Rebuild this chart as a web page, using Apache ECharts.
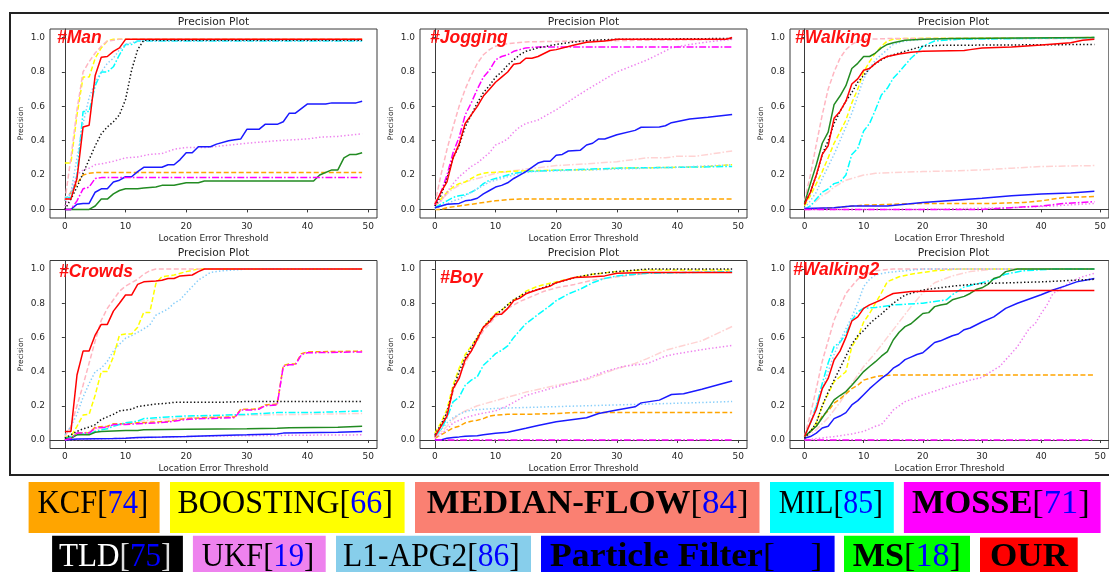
<!DOCTYPE html>
<html><head><meta charset="utf-8">
<script src="https://cdn.jsdelivr.net/npm/echarts@6/dist/echarts.min.js"></script>
<style>html,body{margin:0;padding:0;background:#fff}#c{width:1109px;height:572px}</style>
</head><body><div id="c"></div>
<script>
// ---------- tick labels ----------
const X_TICKS = [0, 10, 20, 30, 40, 50];
const Y_TICKS = [0, 0.2, 0.4, 0.6, 0.8, 1.0];
const PANEL_TITLES = ['#Man', '#Jogging', '#Walking', '#Crowds', '#Boy', '#Walking2'];

// ---------- #Man ----------
const man_our = [[0,.06],[1,.06],[2,.18],[3,.48],[4,.49],[5,.78],[6,.885],[7,.89],[8,.92],[9,.94],[10,.99],[49,.99]];
const man_boost = [[0,.27],[1,.27],[2,.55],[3,.77],[4,.77],[5,.88],[6,.94],[7,.98],[8,.99],[49,.99]];
const man_median = [[0,.05],[1,.3],[2,.58],[3,.8],[4,.86],[5,.91],[6,.95],[7,.98],[9,.99],[49,.99]];
const man_mil = [[0,.07],[1,.07],[2,.2],[3,.57],[4,.57],[5,.72],[6,.8],[7,.8],[8,.83],[9,.9],[10,.96],[11,.96],[12,.98],[49,.98]];
const man_l1 = [[0,.05],[1,.1],[2,.3],[3,.5],[4,.65],[5,.74],[6,.8],[7,.85],[8,.88],[9,.93],[10,.96],[12,.98],[49,.98]];
const man_tld = [[0,0],[1,.06],[2,.13],[3,.21],[4,.29],[5,.37],[6,.44],[7,.48],[8,.51],[9,.55],[10,.64],[11,.81],[12,.93],[13,.985],[49,.985]];
const man_ukf = [[0,.02],[1,.1],[2,.2],[3,.23],[4,.24],[5,.26],[6,.265],[8,.28],[10,.3],[12,.305],[14,.32],[16,.325],[18,.35],[20,.36],[23,.36],[26,.37],[30,.385],[35,.4],[40,.41],[42,.42],[45,.425],[49,.44]];
const man_kcf = [[0,.05],[1,.1],[2,.15],[3,.2],[4,.21],[5,.215],[49,.215]];
const man_mosse = [[0,0],[1,0],[2,.05],[3,.12],[4,.13],[5,.18],[6,.185],[49,.185]];
const man_pf = [[0,0],[1,0],[2,.03],[3,.035],[4,.035],[5,.1],[6,.12],[7,.12],[8,.16],[9,.17],[10,.19],[11,.19],[12,.22],[13,.245],[16,.245],[17,.26],[18,.26],[19,.29],[20,.33],[21,.33],[22,.365],[24,.365],[25,.38],[27,.4],[28,.405],[29,.41],[30,.466],[32,.466],[33,.495],[35,.495],[36,.51],[37,.56],[38,.56],[40,.614],[43,.614],[44,.62],[48,.62],[49,.63]];
const man_ms = [[0,0],[4,0],[5,.02],[6,.06],[7,.06],[8,.09],[9,.11],[10,.12],[12,.12],[13,.125],[15,.13],[16,.14],[18,.14],[20,.155],[22,.155],[23,.165],[41,.165],[42,.2],[44,.23],[45,.23],[46,.3],[47,.32],[48,.32],[49,.33]];
const man_other = [];

// ---------- #Jogging ----------
const jog_our = [[0,.03],[1,.1],[2,.16],[3,.3],[4,.38],[5,.5],[6,.55],[7,.6],[8,.66],[9,.7],[10,.74],[11,.77],[12,.8],[13,.845],[14,.85],[15,.88],[16,.88],[17,.89],[19,.925],[20,.93],[23,.957],[25,.973],[28,.98],[30,.99],[48,.99],[49,1.0]];
const jog_tld = [[0,.02],[1,.08],[2,.18],[3,.3],[4,.37],[5,.48],[6,.55],[7,.62],[8,.68],[9,.72],[10,.77],[11,.8],[12,.84],[13,.87],[14,.9],[15,.92],[17,.94],[20,.96],[23,.975],[26,.985],[30,.99],[49,.995]];
const jog_mosse = [[0,.02],[1,.1],[2,.2],[3,.33],[4,.42],[5,.55],[6,.62],[7,.7],[8,.77],[9,.81],[10,.87],[11,.89],[12,.9],[13,.92],[14,.93],[15,.94],[17,.945],[49,.945]];
const jog_median = [[0,.03],[1,.2],[2,.35],[3,.48],[4,.6],[5,.7],[6,.78],[7,.85],[8,.9],[9,.93],[10,.95],[12,.965],[15,.975],[25,.98],[35,.985],[49,.99]];
const jog_ukf = [[0,.02],[1,.05],[2,.1],[3,.15],[4,.19],[5,.22],[6,.25],[7,.27],[8,.3],[9,.33],[10,.375],[11,.39],[12,.41],[13,.45],[14,.48],[15,.5],[17,.52],[20,.58],[23,.65],[25,.695],[30,.8],[35,.87],[39,.94],[42,.96],[45,.975],[49,.99]];
const jog_pf = [[0,.01],[1,.02],[2,.03],[4,.035],[5,.05],[6,.055],[7,.065],[8,.09],[9,.11],[10,.13],[11,.14],[12,.155],[13,.18],[14,.2],[15,.22],[17,.27],[18,.28],[19,.28],[20,.315],[21,.32],[22,.34],[24,.345],[25,.375],[26,.385],[27,.41],[28,.41],[30,.435],[33,.46],[34,.478],[37,.48],[38,.487],[39,.505],[42,.526],[45,.536],[49,.553]];
const jog_other = [[0,.02],[1,.05],[2,.09],[3,.12],[4,.14],[5,.16],[6,.17],[7,.18],[8,.19],[10,.21],[15,.235],[20,.255],[25,.265],[30,.278],[35,.3],[38,.3],[40,.31],[43,.31],[46,.325],[49,.34]];
const jog_boost = [[0,.02],[1,.06],[2,.1],[3,.13],[4,.15],[5,.16],[6,.18],[7,.2],[8,.21],[9,.215],[12,.22],[15,.225],[20,.228],[26,.232],[30,.24],[40,.245],[45,.25],[49,.26]];
const jog_mil = [[0,.01],[1,.03],[2,.05],[3,.07],[4,.08],[5,.085],[6,.1],[7,.12],[8,.15],[9,.17],[10,.18],[11,.19],[12,.2],[13,.21],[15,.22],[20,.228],[26,.235],[30,.24],[40,.245],[49,.25]];
const jog_l1 = [[0,0],[1,.02],[2,.03],[3,.05],[4,.06],[5,.08],[6,.1],[7,.12],[8,.14],[9,.16],[10,.17],[12,.19],[14,.21],[16,.22],[20,.225],[26,.23],[30,.235],[40,.245],[49,.26]];
const jog_kcf = [[0,0],[1,0],[2,.01],[4,.02],[6,.03],[8,.04],[10,.05],[12,.057],[14,.06],[49,.06]];
const jog_ms = [];

// ---------- #Walking ----------
const walk_median = [[0,.05],[1,.2],[2,.38],[3,.55],[4,.7],[5,.8],[6,.88],[7,.93],[8,.96],[9,.98],[10,.99],[15,.995],[49,.995]];
const walk_ms = [[0,.035],[1,.15],[2,.26],[3,.385],[4,.45],[5,.61],[6,.66],[7,.72],[8,.82],[9,.85],[10,.89],[11,.89],[12,.91],[13,.94],[14,.96],[15,.97],[17,.985],[20,.99],[25,.995],[49,1.0]];
const walk_our = [[0,.03],[1,.1],[2,.2],[3,.32],[4,.37],[5,.53],[6,.57],[7,.63],[8,.73],[9,.76],[10,.81],[11,.82],[12,.85],[13,.875],[14,.89],[16,.905],[18,.915],[20,.92],[27,.925],[28,.93],[30,.94],[35,.945],[40,.957],[45,.97],[47,.985],[49,.99]];
const walk_tld = [[0,.03],[1,.1],[2,.2],[3,.32],[4,.4],[5,.5],[6,.57],[7,.63],[8,.68],[9,.74],[10,.78],[11,.82],[12,.85],[13,.87],[14,.89],[15,.9],[17,.92],[20,.95],[23,.955],[49,.96]];
const walk_boost = [[0,.02],[1,.08],[2,.15],[3,.22],[4,.3],[5,.385],[6,.45],[7,.52],[8,.62],[9,.7],[10,.8],[11,.86],[12,.91],[13,.95],[14,.98],[15,.99],[17,.995],[49,1.0]];
const walk_l1 = [[0,.01],[1,.05],[2,.1],[3,.18],[4,.25],[5,.32],[6,.4],[7,.48],[8,.56],[9,.66],[10,.76],[11,.82],[12,.87],[13,.9],[14,.93],[15,.96],[17,.98],[20,.99],[49,1.0]];
const walk_mil = [[0,0],[1,.02],[2,.06],[3,.1],[4,.12],[5,.15],[6,.16],[7,.2],[8,.32],[9,.355],[10,.456],[11,.5],[12,.58],[13,.666],[14,.705],[15,.763],[16,.8],[17,.84],[18,.88],[19,.91],[20,.95],[22,.98],[26,.99],[49,1.0]];
const walk_other = [[0,0],[1,.02],[2,.05],[3,.08],[4,.1],[5,.13],[6,.15],[7,.17],[8,.18],[9,.19],[10,.2],[12,.21],[15,.215],[20,.22],[26,.225],[30,.23],[35,.24],[40,.25],[49,.255]];
const walk_pf = [[0,.005],[5,.01],[8,.02],[14,.02],[20,.04],[26,.055],[30,.065],[35,.08],[40,.09],[45,.095],[49,.105]];
const walk_kcf = [[0,0],[5,.01],[10,.025],[15,.03],[20,.035],[32,.035],[37,.04],[40,.05],[44,.07],[49,.075]];
const walk_mosse = [[0,0],[30,0],[35,.01],[40,.02],[44,.035],[49,.045]];
const walk_ukf = [[0,0],[20,0],[35,.01],[42,.02],[49,.035]];

// ---------- #Crowds ----------
const crowd_our = [[0,.05],[1,.05],[2,.38],[3,.52],[4,.52],[5,.614],[6,.676],[7,.676],[8,.754],[9,.8],[10,.848],[11,.848],[12,.91],[13,.925],[15,.93],[16,.935],[17,.945],[18,.945],[19,.96],[21,.965],[22,.985],[23,1.0],[49,1.0]];
const crowd_median = [[0,.02],[1,.08],[2,.2],[3,.32],[4,.45],[5,.58],[6,.7],[7,.77],[8,.82],[9,.87],[10,.9],[11,.92],[12,.94],[13,.97],[14,.99],[15,1.0],[49,1.0]];
const crowd_boost = [[0,.02],[1,.02],[2,.08],[3,.146],[4,.15],[5,.263],[6,.4],[7,.4],[8,.487],[9,.614],[10,.62],[11,.62],[12,.66],[13,.746],[14,.746],[15,.916],[16,.955],[18,.965],[20,.985],[22,1.0],[49,1.0]];
const crowd_l1 = [[0,.03],[1,.08],[2,.15],[3,.25],[4,.33],[5,.4],[6,.42],[7,.46],[8,.52],[9,.56],[10,.595],[11,.61],[12,.63],[13,.65],[14,.673],[15,.73],[17,.766],[18,.8],[19,.82],[20,.86],[22,.935],[24,.98],[26,.99],[30,1.0],[49,1.0]];
const crowd_mosse = [[0,0],[1,.01],[2,.04],[4,.04],[5,.07],[7,.075],[8,.09],[10,.09],[12,.095],[15,.1],[17,.105],[20,.12],[23,.125],[28,.13],[29,.175],[31,.175],[32,.18],[33,.2],[35,.205],[36,.43],[37,.44],[38,.44],[39,.5],[40,.51],[49,.515]];
const crowd_kcf = [[0,0],[1,.01],[2,.04],[4,.04],[5,.075],[7,.08],[8,.095],[10,.095],[12,.1],[15,.105],[17,.11],[20,.125],[23,.13],[28,.135],[29,.18],[31,.18],[32,.185],[33,.205],[35,.21],[36,.435],[37,.445],[38,.445],[39,.505],[40,.515],[49,.52]];
const crowd_tld = [[0,.01],[1,.03],[2,.05],[3,.065],[4,.075],[5,.09],[6,.12],[7,.135],[8,.15],[9,.17],[10,.175],[11,.18],[12,.195],[13,.2],[14,.205],[15,.21],[17,.215],[18,.22],[25,.22],[30,.225],[49,.225]];
const crowd_mil = [[0,.01],[1,.02],[2,.03],[3,.035],[4,.035],[5,.05],[6,.06],[7,.065],[8,.08],[9,.09],[10,.1],[12,.11],[13,.125],[15,.13],[17,.135],[20,.14],[26,.145],[30,.15],[35,.16],[40,.16],[45,.165],[49,.17]];
const crowd_other = [[0,0],[2,.03],[5,.06],[10,.1],[15,.12],[20,.13],[30,.145],[40,.15],[49,.155]];
const crowd_ms = [[0,.01],[1,.01],[2,.03],[3,.03],[4,.03],[5,.045],[6,.05],[10,.055],[12,.055],[13,.06],[20,.062],[30,.065],[35,.068],[37,.072],[45,.075],[49,.08]];
const crowd_pf = [[0,0],[2,.005],[8,.008],[10,.01],[12,.015],[16,.017],[20,.02],[24,.025],[30,.03],[35,.035],[36,.04],[45,.045],[49,.05]];
const crowd_ukf = [[0,0],[5,.005],[10,.01],[20,.02],[30,.025],[40,.028],[49,.03]];

// ---------- #Boy ----------
const boy_boost = [[0,.04],[1,.1],[2,.18],[3,.32],[4,.42],[5,.5],[6,.55],[7,.6],[8,.66],[9,.7],[10,.74],[11,.76],[12,.79],[13,.82],[14,.84],[15,.87],[17,.9],[20,.925],[23,.95],[26,.97],[30,.985],[35,.995],[49,.995]];
const boy_tld = [[0,.03],[1,.09],[2,.16],[3,.3],[4,.4],[5,.48],[6,.54],[7,.6],[8,.66],[9,.7],[10,.73],[11,.76],[12,.79],[13,.82],[14,.84],[15,.86],[17,.88],[20,.92],[23,.95],[26,.97],[30,.985],[35,1.0],[49,1.0]];
const boy_our = [[0,.02],[1,.08],[2,.14],[3,.3],[4,.36],[5,.47],[6,.52],[7,.59],[8,.66],[9,.69],[10,.735],[11,.735],[12,.77],[13,.815],[14,.83],[15,.855],[17,.88],[19,.9],[20,.92],[22,.94],[23,.95],[26,.955],[28,.96],[30,.975],[35,.98],[49,.98]];
const boy_median = [[0,.02],[1,.08],[2,.16],[3,.28],[4,.38],[5,.45],[6,.52],[7,.58],[8,.64],[9,.68],[10,.72],[12,.77],[14,.81],[16,.84],[18,.87],[20,.89],[23,.91],[26,.935],[30,.955],[35,.975],[40,.98],[49,.985]];
const boy_mil = [[0,.02],[1,.06],[2,.13],[3,.223],[4,.25],[5,.32],[6,.35],[7,.37],[8,.437],[9,.47],[10,.505],[11,.524],[12,.55],[13,.6],[14,.64],[15,.68],[17,.734],[19,.786],[20,.815],[22,.854],[24,.883],[26,.92],[28,.945],[30,.96],[35,.975],[49,.985]];
const boy_other = [[0,.01],[2,.08],[3,.12],[4,.15],[5,.17],[7,.2],[10,.23],[15,.28],[20,.32],[25,.353],[30,.417],[33,.447],[35,.476],[38,.524],[40,.544],[44,.58],[49,.664]];
const boy_ukf = [[0,.01],[2,.06],[3,.1],[5,.13],[7,.15],[10,.17],[11,.185],[12,.2],[15,.26],[18,.29],[20,.31],[25,.36],[28,.4],[31,.43],[35,.447],[38,.49],[40,.505],[45,.534],[49,.553]];
const boy_pf = [[0,0],[1,0],[2,.01],[3,.015],[4,.018],[5,.022],[7,.025],[8,.03],[10,.039],[12,.045],[15,.068],[17,.085],[20,.107],[25,.13],[27,.155],[30,.175],[33,.194],[34,.217],[37,.233],[39,.266],[41,.27],[44,.297],[47,.326],[49,.345]];
const boy_l1 = [[0,.02],[1,.06],[2,.1],[3,.13],[4,.15],[5,.165],[6,.175],[8,.18],[10,.185],[15,.19],[20,.195],[25,.2],[30,.205],[40,.215],[45,.22],[49,.225]];
const boy_kcf = [[0,.01],[1,.03],[2,.05],[3,.07],[4,.08],[5,.1],[6,.11],[7,.115],[8,.125],[9,.14],[10,.145],[12,.15],[15,.15],[20,.155],[23,.16],[49,.16]];
const boy_mosse = [[0,0],[49,0]];
const boy_ms = [];

// ---------- #Walking2 ----------
const w2_median = [[0,.02],[1,.15],[2,.3],[3,.46],[4,.58],[5,.7],[6,.78],[7,.857],[8,.9],[9,.94],[10,.965],[12,.99],[15,1.0],[49,1.0]];
const w2_l1 = [[0,.02],[1,.1],[2,.2],[3,.3],[4,.4],[5,.5],[6,.58],[7,.65],[8,.72],[9,.8],[10,.897],[11,.94],[12,.965],[14,.98],[17,.99],[20,1.0],[49,1.0]];
const w2_mil = [[0,.02],[1,.1],[2,.2],[3,.33],[4,.45],[5,.546],[6,.571],[7,.62],[8,.7],[9,.75],[10,.77],[12,.775],[15,.79],[20,.8],[23,.815],[24,.82],[25,.85],[27,.895],[30,.92],[32,.94],[34,.97],[37,.99],[42,1.0],[49,1.0]];
const w2_our = [[0,.02],[1,.1],[2,.18],[3,.3],[4,.36],[5,.468],[6,.52],[7,.6],[8,.696],[9,.72],[10,.77],[11,.79],[12,.805],[13,.82],[14,.84],[15,.857],[18,.868],[30,.874],[49,.874]];
const w2_boost = [[0,.02],[1,.05],[2,.1],[3,.2],[4,.27],[5,.34],[6,.37],[7,.4],[8,.546],[9,.6],[10,.69],[11,.74],[12,.8],[13,.86],[14,.926],[16,.955],[18,.97],[22,.99],[26,1.0],[49,1.0]];
const w2_tld = [[0,.01],[1,.05],[2,.1],[3,.2],[4,.28],[5,.35],[6,.42],[7,.49],[8,.56],[9,.61],[10,.64],[11,.68],[12,.71],[13,.737],[15,.8],[17,.848],[20,.877],[25,.9],[30,.915],[40,.925],[49,.94]];
const w2_other = [[0,.01],[2,.06],[4,.13],[6,.22],[8,.33],[10,.43],[12,.51],[14,.6],[16,.69],[18,.78],[20,.86],[22,.92],[25,.96],[28,.985],[32,1.0],[49,1.0]];
const w2_ms = [[0,.02],[1,.05],[2,.08],[3,.13],[4,.18],[5,.234],[6,.26],[7,.283],[8,.32],[9,.36],[10,.4],[11,.43],[12,.458],[13,.49],[14,.517],[15,.585],[16,.63],[17,.663],[18,.68],[19,.71],[20,.74],[21,.745],[22,.78],[23,.79],[24,.795],[25,.82],[27,.84],[28,.857],[29,.88],[30,.89],[31,.91],[32,.945],[33,.955],[34,.985],[36,1.0],[49,1.0]];
const w2_kcf = [[0,.02],[1,.05],[2,.08],[3,.14],[4,.17],[5,.215],[6,.24],[7,.27],[8,.3],[9,.32],[10,.35],[11,.36],[12,.37],[13,.375],[15,.38],[49,.38]];
const w2_pf = [[0,.01],[1,.02],[2,.04],[3,.07],[4,.08],[5,.125],[6,.14],[7,.16],[8,.205],[9,.23],[10,.265],[11,.3],[12,.33],[13,.36],[14,.385],[15,.42],[16,.44],[17,.47],[18,.485],[19,.5],[20,.51],[21,.54],[22,.57],[23,.58],[24,.595],[25,.61],[26,.62],[27,.645],[28,.655],[30,.69],[32,.72],[34,.77],[36,.8],[38,.825],[40,.85],[42,.877],[44,.9],[46,.925],[49,.945]];
const w2_ukf = [[0,0],[5,.02],[8,.035],[10,.05],[12,.08],[13,.09],[14,.13],[15,.175],[17,.224],[20,.263],[25,.32],[28,.35],[30,.366],[32,.41],[33,.43],[35,.507],[36,.546],[38,.653],[39,.68],[40,.74],[41,.79],[42,.857],[43,.877],[45,.926],[47,.955],[49,.975]];
const w2_mosse = [[0,0],[49,0]];

// ---------- legend text ----------
const LEG_NAMES = ['KCF','BOOSTING','MEDIAN-FLOW','MIL','MOSSE','TLD','UKF','L1-APG2','Particle Filter','MS','OUR'];
const LEG_REFS = ['74','66','84','85','71','75','19','86','\u2002\u2002','18',null];
const LEG_BG = ['#FFA500','#FFFF00','#FA8072','#00FFFF','#FF00FF','#000000','#EE82EE','#87CEEB','#0000FF','#00FF00','#FF0000'];
const LEG_BOLD = [false,false,true,false,true,false,false,false,true,true,true];

// ---------- assemble ----------
const PANELS = [
  {kcf:man_kcf, boost:man_boost, median:man_median, mil:man_mil, mosse:man_mosse, tld:man_tld, ukf:man_ukf, l1:man_l1, other:man_other, pf:man_pf, ms:man_ms, our:man_our},
  {kcf:jog_kcf, boost:jog_boost, median:jog_median, mil:jog_mil, mosse:jog_mosse, tld:jog_tld, ukf:jog_ukf, l1:jog_l1, other:jog_other, pf:jog_pf, ms:jog_ms, our:jog_our},
  {kcf:walk_kcf, boost:walk_boost, median:walk_median, mil:walk_mil, mosse:walk_mosse, tld:walk_tld, ukf:walk_ukf, l1:walk_l1, other:walk_other, pf:walk_pf, ms:walk_ms, our:walk_our},
  {kcf:crowd_kcf, boost:crowd_boost, median:crowd_median, mil:crowd_mil, mosse:crowd_mosse, tld:crowd_tld, ukf:crowd_ukf, l1:crowd_l1, other:crowd_other, pf:crowd_pf, ms:crowd_ms, our:crowd_our},
  {kcf:boy_kcf, boost:boy_boost, median:boy_median, mil:boy_mil, mosse:boy_mosse, tld:boy_tld, ukf:boy_ukf, l1:boy_l1, other:boy_other, pf:boy_pf, ms:boy_ms, our:boy_our},
  {kcf:w2_kcf, boost:w2_boost, median:w2_median, mil:w2_mil, mosse:w2_mosse, tld:w2_tld, ukf:w2_ukf, l1:w2_l1, other:w2_other, pf:w2_pf, ms:w2_ms, our:w2_our}
];

const DASH = [5, 2.5], DASHDOT = [7, 2, 1.6, 2], DOT = [1.4, 2.2];
const STYLE = {
  other:{color:'#FFD3D3', type:DASHDOT},
  kcf:{color:'#FFA500', type:DASH},
  boost:{color:'#FFFF00', type:DASH},
  median:{color:'#FFB6C1', type:DASH},
  mil:{color:'#00FFFF', type:DASHDOT},
  ukf:{color:'#EE82EE', type:DOT},
  l1:{color:'#87CEFA', type:DOT},
  pf:{color:'#1A1AFF', type:'solid'},
  ms:{color:'#228B22', type:'solid'},
  mosse:{color:'#FF00FF', type:DASHDOT},
  tld:{color:'#111111', type:DOT},
  our:{color:'#FF0000', type:'solid'}
};
const ORDER = ['other','kcf','boost','median','mil','ukf','l1','pf','ms','mosse','tld','our'];

const GL = [50, 420, 790], GT = [29, 260.5], GW = 327, GH = [189, 188];
const FRAME = '#3a3a3a', TXT = '#262626';

const grids = [], xAxes = [], yAxes = [], series = [], graphics = [];
for (let i = 0; i < 6; i++) {
  const c = i % 3, r = Math.floor(i / 3);
  grids.push({left: GL[c], top: GT[r], width: GW, height: GH[r], show: true, borderColor: FRAME, borderWidth: 1, containLabel: false});
  xAxes.push({
    gridIndex: i, type: 'value', min: -2.45, max: 51.45,
    axisLine: {show: true, lineStyle: {color: FRAME, width: 1}},
    axisTick: {show: true, customValues: X_TICKS, length: 3, lineStyle: {color: FRAME}},
    axisLabel: {customValues: X_TICKS, fontSize: 9, fontFamily: 'DejaVu Sans', color: TXT, margin: 4},
    splitLine: {show: false},
    name: 'Location Error Threshold', nameLocation: 'middle', nameGap: 16,
    nameTextStyle: {fontSize: 9, fontFamily: 'DejaVu Sans', color: TXT}
  });
  yAxes.push({
    gridIndex: i, type: 'value', min: -0.05, max: 1.05,
    axisLine: {show: true, lineStyle: {color: FRAME, width: 1}},
    axisTick: {show: true, customValues: Y_TICKS, length: 3, lineStyle: {color: FRAME}},
    axisLabel: {customValues: Y_TICKS, fontSize: 9, fontFamily: 'DejaVu Sans', color: TXT, margin: 5, formatter: v => Number(v).toFixed(1)},
    splitLine: {show: false},
    name: 'Precision', nameLocation: 'middle', nameGap: 25, nameRotate: 90,
    nameTextStyle: {fontSize: 7.5, fontFamily: 'DejaVu Sans', color: TXT}
  });
  ORDER.forEach(k => {
    const d = PANELS[i][k];
    if (!d || !d.length) return;
    series.push({
      type: 'line', xAxisIndex: i, yAxisIndex: i, data: d, symbol: 'none', silent: true,
      lineStyle: {color: STYLE[k].color, width: 1.5, type: STYLE[k].type}
    });
  });
  // panel title
  graphics.push({type: 'text', x: GL[c] + GW / 2, y: r ? 253.3 : 22.5, scaleX: 1.12,
    style: {text: 'Precision Plot', fontSize: 9.6, fontFamily: 'DejaVu Sans', fill: TXT,
      align: 'center', verticalAlign: 'middle', textAlign: 'center', textVerticalAlign: 'middle'}});
}

// sequence annotations
const ANN_POS = [[57,37.7],[430,37.7],[795,37.7],[59,272.5],[440,277.8],[793,270.5]];
PANEL_TITLES.forEach((t, i) => {
  graphics.push({type: 'text', x: ANN_POS[i][0], y: ANN_POS[i][1], z: 10,
    style: {text: t, fontSize: 17.5, fontWeight: 'bold', fontStyle: 'italic', fontFamily: 'Liberation Sans', fill: '#FF1010',
      align: 'left', verticalAlign: 'middle', textAlign: 'left', textVerticalAlign: 'middle'}});
});

// outer frame
graphics.push({type: 'rect', shape: {x: 10, y: 13, width: 1110, height: 462}, z: 0,
  style: {fill: 'none', stroke: '#222', lineWidth: 2}});

// legend boxes
const BOX = [
  [28.6,482,131,51],[170,482,234.6,51],[415,482,344.5,51],[770,482,123.8,51],[903.9,482,196.7,51],
  [52.1,535.7,130.8,51],[192.9,535.7,132.8,51],[336,535.7,195,51],[541,535.7,293.6,51],[844,535.7,126,51],[980,537.5,97.7,51]
];
const TXT_C = [[92.9,504.5,110.7],[285.2,504.5,215.4],[587.7,504.5,321.8],[830.9,504.5,104.1],[1000.8,504.5,177.8],
  [115.2,557,112.5],[258,557,112.5],[431.3,557,176.7],[686.2,557,272.3],[906.9,557,108.1],[1029,557,78]];
const FS = 34, FF = '"Liberation Serif", serif';
const mctx = document.createElement('canvas').getContext('2d');
function mw(t, bold) { mctx.font = (bold ? 'bold ' : '') + FS + 'px ' + FF; return mctx.measureText(t).width; }
LEG_NAMES.forEach((n, i) => {
  const b = BOX[i];
  graphics.push({type: 'rect', shape: {x: b[0], y: b[1], width: b[2], height: b[3]}, z: 5,
    style: {fill: LEG_BG[i], stroke: 'none'}});
  const white = LEG_BG[i] === '#000000';
  const nameCol = white ? '#FFFFFF' : '#000000';
  const brCol = white ? '#DDDDDD' : '#000000';
  let text = '{n|' + n + '}', w = mw(n, LEG_BOLD[i]);
  if (LEG_REFS[i] !== null) {
    text += '{b|[}{r|' + LEG_REFS[i] + '}{b|]}';
    w += mw('[', false) * 2 + mw(LEG_REFS[i], false);
  }
  const tc = TXT_C[i];
  const base = {fontSize: FS, fontFamily: FF};
  graphics.push({type: 'text', x: tc[0], y: tc[1], scaleX: tc[2] / w, z: 6,
    style: {text: text, fontSize: FS, fontFamily: FF, fill: nameCol,
      align: 'center', verticalAlign: 'middle', textAlign: 'center', textVerticalAlign: 'middle',
      rich: {
        n: Object.assign({}, base, {fontWeight: LEG_BOLD[i] ? 'bold' : 'normal', fill: nameCol, color: nameCol}),
        b: Object.assign({}, base, {fill: brCol, color: brCol}),
        r: Object.assign({}, base, {fill: '#0000FF', color: '#0000FF'})
      }}});
});

const chart = echarts.init(document.getElementById('c'), null, {renderer: 'canvas'});
chart.setOption({
  animation: false,
  backgroundColor: '#ffffff',
  grid: grids, xAxis: xAxes, yAxis: yAxes, series: series,
  graphic: {elements: graphics}
});
</script>
</body></html>
